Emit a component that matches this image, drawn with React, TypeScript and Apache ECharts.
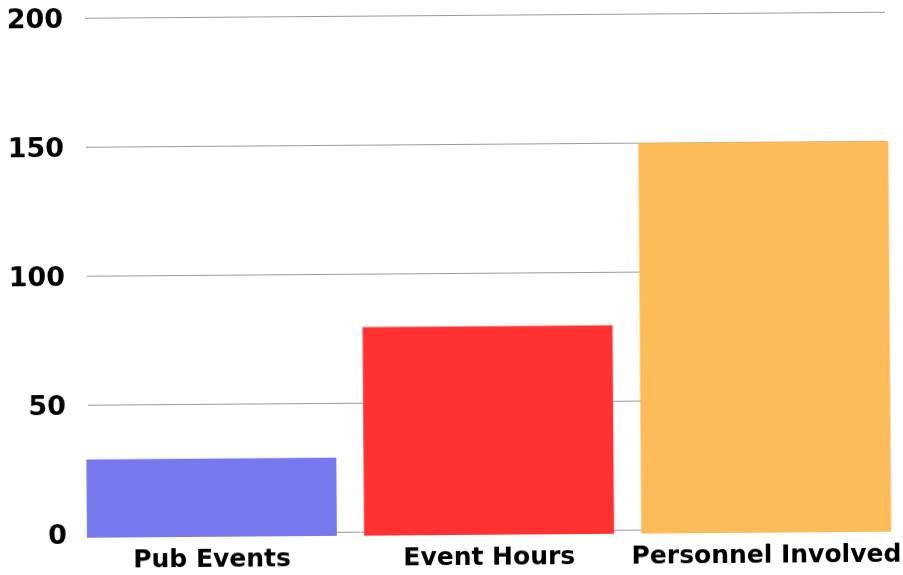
import React, { useEffect, useRef } from "react";
import * as echarts from "echarts";

const categories = ["Pub Events", "Event Hours", "Personnel Involved"];
const values = [30, 80, 150];
const barColors = ["#7878EE", "#FF3131", "#FDBB59"];
const yTicks = [0, 50, 100, 150, 200];

export default function App() {
  const ref = useRef<HTMLDivElement>(null);
  useEffect(() => {
    if (!ref.current) return;
    const chart = echarts.init(ref.current, undefined, { renderer: "svg" });
    const font = "DejaVu Sans";
    chart.setOption({
      animation: false,
      backgroundColor: "#ffffff",
      grid: [
        { left: 87, right: 16, top: 15.3, bottom: 44 },
        { left: 71.5, right: -0.5, top: 14, bottom: 40 },
      ],
      xAxis: [
        { type: "value", gridIndex: 0, show: false, min: 0, max: 1 },
        {
          type: "category",
          gridIndex: 1,
          data: categories,
          axisLine: { show: false },
          axisTick: { show: false },
          axisLabel: {
            interval: 0,
            fontFamily: font,
            fontWeight: "bold",
            fontSize: 25,
            color: "#000",
            margin: 9,
          },
        },
      ],
      yAxis: [
        {
          type: "value",
          gridIndex: 0,
          min: yTicks[0],
          max: yTicks[yTicks.length - 1],
          interval: 50,
          axisLine: { show: false },
          axisTick: { show: false },
          axisLabel: {
            fontFamily: font,
            fontWeight: "bold",
            fontSize: 27,
            color: "#000",
            margin: 22,
          },
          splitLine: { lineStyle: { color: "#9a9a9a", width: 1 } },
        },
        {
          type: "value",
          gridIndex: 1,
          min: 0,
          max: 200,
          show: false,
          splitLine: { show: false },
        },
      ],
      series: [
        {
          type: "bar",
          xAxisIndex: 1,
          yAxisIndex: 1,
          barWidth: 250,
          data: values.map((v, i) => ({ value: v, itemStyle: { color: barColors[i] } })),
        },
      ],
    });
    return () => chart.dispose();
  }, []);
  return (
    <div
      ref={ref}
      style={{
        position: "fixed",
        left: 0,
        top: 0,
        width: 903,
        height: 575,
        transform: "rotate(-0.43deg)",
        transformOrigin: "50% 50%",
      }}
    />
  );
}
